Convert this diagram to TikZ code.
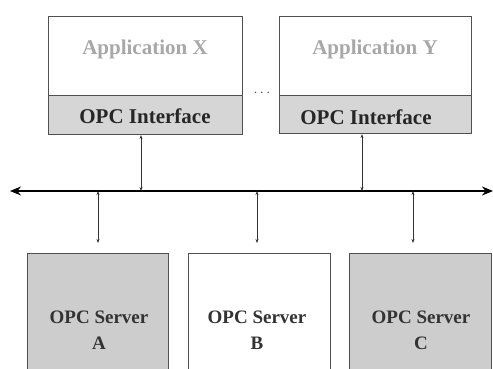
\documentclass[tikz,border=0pt]{standalone}
\usepackage{fontspec}
\setmainfont{Liberation Serif}
\usetikzlibrary{arrows.meta}
\definecolor{ifgray}{HTML}{D6D6D6}
\definecolor{srvgray}{HTML}{CDCDCD}
\definecolor{apptext}{HTML}{A8A8A8}
\definecolor{edge}{HTML}{505050}
\tikzset{
  box/.style={draw=edge, line width=1.1pt, anchor=north west, inner sep=0pt},
  apptxt/.style={font=\bfseries\fontsize{21}{24}\selectfont, text=apptext},
  iftxt/.style={font=\bfseries\fontsize{21}{24}\selectfont, text=black!85},
  srvtxt/.style={font=\bfseries\fontsize{19}{26}\selectfont, text=black!80, align=center},
  conn/.style={draw=black!80, line width=0.6pt, {Stealth[length=4pt,width=3pt]}-{Stealth[length=4pt,width=3pt]}},
  bus/.style={draw=black, line width=1.8pt, {Stealth[length=11pt,width=9pt]}-{Stealth[length=11pt,width=9pt]}}
}
\begin{document}
\begin{tikzpicture}[x=1pt,y=-1pt]
\useasboundingbox (0,0) rectangle (493,369);
\clip (0,0) rectangle (493,369);
\fill[white] (0,0) rectangle (493,369);
% applications
\node[box, fill=white, minimum width=194pt, minimum height=79pt] (appx) at (48,16) {};
\node[box, fill=ifgray, minimum width=194pt, minimum height=39pt] (ifx) at (48,95) {};
\node[box, fill=white, minimum width=192pt, minimum height=79pt] (appy) at (279,16) {};
\node[box, fill=ifgray, minimum width=192pt, minimum height=38pt] (ify) at (279,95) {};
\node[apptxt] (appxt) at (145,49) {Application X};
\node[apptxt] (appyt) at (375,49) {Application Y};
\node[iftxt] (ifxt) at (145,116) {OPC Interface};
\node[iftxt] (ifyt) at (366,117) {OPC Interface};
\node[font=\fontsize{14}{14}\selectfont, text=black!70] (dots) at (262,93) {$\cdots$};
% servers
\node[box, fill=srvgray, minimum width=141pt, minimum height=130pt] (srva) at (27,253) {};
\node[box, fill=white, minimum width=142pt, minimum height=130pt] (srvb) at (188,253) {};
\node[box, fill=srvgray, minimum width=142pt, minimum height=130pt] (srvc) at (349,253) {};
\node[srvtxt] (srvat) at (99,330) {OPC Server\\A};
\node[srvtxt] (srvbt) at (257,330) {OPC Server\\B};
\node[srvtxt] (srvct) at (421,330) {OPC Server\\C};
% bus
\coordinate (busl) at (10,191);
\coordinate (busr) at (493,191);
\draw[bus] (busl) -- (busr);
\coordinate (bx) at (141,191);
\coordinate (by) at (362,191);
\coordinate (ba) at (98,191);
\coordinate (bb) at (257,191);
\coordinate (bc) at (413,191);
\coordinate (ea) at (98,243);
\coordinate (eb) at (257,243);
\coordinate (ec) at (413,243);
\draw[conn] (bx |- ifx.south) -- (bx);
\draw[conn] (by |- ify.south) -- (by);
\draw[conn] (ba) -- (ea);
\draw[conn] (bb) -- (eb);
\draw[conn] (bc) -- (ec);
\end{tikzpicture}
\end{document}
